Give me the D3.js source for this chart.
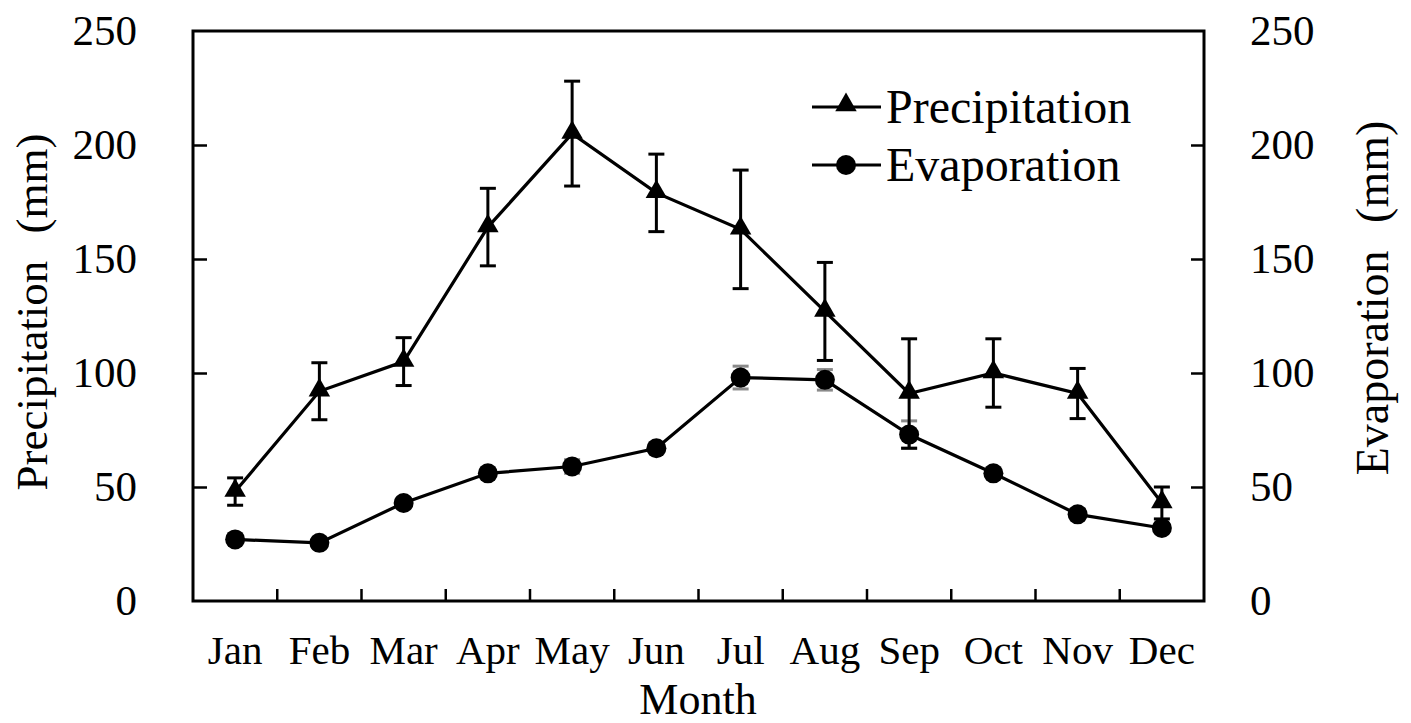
<!DOCTYPE html>
<html>
<head>
<meta charset="utf-8">
<script src="https://cdn.jsdelivr.net/npm/d3@7"></script>
<style>
  body { margin: 0; background: #fff; }
  svg { display: block; font-family: "Liberation Serif", "Times New Roman", serif; }
</style>
</head>
<body>
<svg id="chart" width="1411" height="723"></svg>
<script>
// monthly data
var months = ["Jan", "Feb", "Mar", "Apr", "May", "Jun", "Jul", "Aug", "Sep", "Oct", "Nov", "Dec"];
var precip = [48, 92, 105, 164, 205, 179, 163, 127, 91, 100, 91, 43];
var precipErr = [6, 12.5, 10.5, 17, 23, 17, 26, 21.5, 24, 15, 11, 7];
var evap = [27, 25.5, 43, 56, 59, 67, 98, 97, 73, 56, 38, 32];
var evapErr = [2, 2, 2, 2, 3, 2, 5, 4.5, 6, 2, 2, 2];
var yTicks = [0, 50, 100, 150, 200, 250];

var svg = d3.select("#chart");

var margin = { left: 193, right: 1204, top: 31, bottom: 601 };

var x = d3.scaleBand()
  .domain(months)
  .range([margin.left, margin.right])
  .padding(0);

var yL = d3.scaleLinear().domain([0, 250]).range([margin.bottom, margin.top]);
var yR = d3.scaleLinear().domain([0, 250]).range([margin.bottom, margin.top]);

function cx(d, i) { return x(months[i]) + x.bandwidth() / 2; }

// frame
svg.append("rect")
  .attr("x", margin.left)
  .attr("y", margin.top)
  .attr("width", margin.right - margin.left)
  .attr("height", margin.bottom - margin.top)
  .attr("fill", "none")
  .attr("stroke", "#000")
  .attr("stroke-width", 3);

// left axis, ticks pointing in
var gL = svg.append("g")
  .attr("transform", "translate(" + margin.left + ",0)")
  .call(d3.axisLeft(yL).tickValues(yTicks).tickSize(-14).tickPadding(56));
// right axis
var gR = svg.append("g")
  .attr("transform", "translate(" + margin.right + ",0)")
  .call(d3.axisRight(yR).tickValues(yTicks).tickSize(-13).tickPadding(46));

[gL, gR].forEach(function (g) {
  g.select(".domain").remove();
  g.selectAll(".tick line").attr("stroke", "#000").attr("stroke-width", 2.5);
  g.selectAll(".tick text")
    .attr("fill", "#000")
    .style("font-family", "'Liberation Serif', 'Times New Roman', serif")
    .style("font-size", "43px");
});
// no tick marks at the frame corners
gL.selectAll(".tick line").filter(function (d) { return d === 0 || d === 250; }).remove();
gR.selectAll(".tick line").filter(function (d) { return d === 0 || d === 250; }).remove();

// x axis: ticks at band boundaries, labels at band centres
var gX = svg.append("g");
gX.selectAll("line")
  .data(months.slice(1))
  .enter().append("line")
  .attr("x1", function (d) { return x(d); })
  .attr("x2", function (d) { return x(d); })
  .attr("y1", margin.bottom)
  .attr("y2", margin.bottom - 12)
  .attr("stroke", "#000")
  .attr("stroke-width", 2.5);

gX.selectAll("text")
  .data(months)
  .enter().append("text")
  .attr("x", function (d) { return x(d) + x.bandwidth() / 2; })
  .attr("y", 664)
  .attr("text-anchor", "middle")
  .style("font-size", "41px")
  .text(function (d) { return d; });

// axis titles
svg.append("text")
  .attr("x", 698)
  .attr("y", 714)
  .attr("text-anchor", "middle")
  .style("font-size", "44px")
  .text("Month");

svg.append("text")
  .attr("transform", "translate(47,312) rotate(-90)")
  .attr("text-anchor", "middle")
  .style("font-size", "45px")
  .style("word-spacing", "16px")
  .text("Precipitation (mm)");

svg.append("text")
  .attr("transform", "translate(1388,298) rotate(-90)")
  .attr("text-anchor", "middle")
  .style("font-size", "46px")
  .style("word-spacing", "16px")
  .text("Evaporation (mm)");

var line = function (scale) {
  return d3.line()
    .x(function (d, i) { return cx(d, i); })
    .y(function (d) { return scale(d); });
};

var triangle = d3.symbol().type(d3.symbolTriangle).size(200);

// error bars
function errorBars(vals, errs, scale, colour, width) {
  var g = svg.append("g").attr("stroke", colour).attr("stroke-width", width);
  vals.forEach(function (v, i) {
    var xc = cx(v, i), lo = scale(v - errs[i]), hi = scale(v + errs[i]);
    g.append("line").attr("x1", xc).attr("x2", xc).attr("y1", lo).attr("y2", hi);
    g.append("line").attr("x1", xc - 8).attr("x2", xc + 8).attr("y1", lo).attr("y2", lo);
    g.append("line").attr("x1", xc - 8).attr("x2", xc + 8).attr("y1", hi).attr("y2", hi);
  });
}

errorBars(evap, evapErr, yR, "#8a8a8a", 3);
errorBars(precip, precipErr, yL, "#000", 3);

// evaporation line
svg.append("path")
  .datum(evap)
  .attr("d", line(yR))
  .attr("fill", "none")
  .attr("stroke", "#000")
  .attr("stroke-width", 3.2);

svg.append("g").selectAll("circle")
  .data(evap)
  .enter().append("circle")
  .attr("cx", cx)
  .attr("cy", function (d) { return yR(d); })
  .attr("r", 10)
  .attr("fill", "#000");

// precipitation line
svg.append("path")
  .datum(precip)
  .attr("d", line(yL))
  .attr("fill", "none")
  .attr("stroke", "#000")
  .attr("stroke-width", 3.2);

svg.append("g").selectAll("path")
  .data(precip)
  .enter().append("path")
  .attr("d", triangle)
  .attr("transform", function (d, i) { return "translate(" + cx(d, i) + "," + (yL(d) - 1) + ")"; })
  .attr("fill", "#000");

// legend
var legend = [
  { name: "Precipitation", y: 107, shape: "tri" },
  { name: "Evaporation", y: 165, shape: "circ" }
];
var lg = svg.append("g");
legend.forEach(function (l) {
  lg.append("line")
    .attr("x1", 812).attr("x2", 881)
    .attr("y1", l.y).attr("y2", l.y)
    .attr("stroke", "#000").attr("stroke-width", 3.2);
  if (l.shape === "tri") {
    lg.append("path").attr("d", triangle)
      .attr("transform", "translate(846," + (l.y - 2) + ")")
      .attr("fill", "#000");
  } else {
    lg.append("circle").attr("cx", 846).attr("cy", l.y).attr("r", 10).attr("fill", "#000");
  }
  lg.append("text")
    .attr("x", 886)
    .attr("y", l.y + 16)
    .style("font-size", "48px")
    .text(l.name);
});
</script>
</body>
</html>
